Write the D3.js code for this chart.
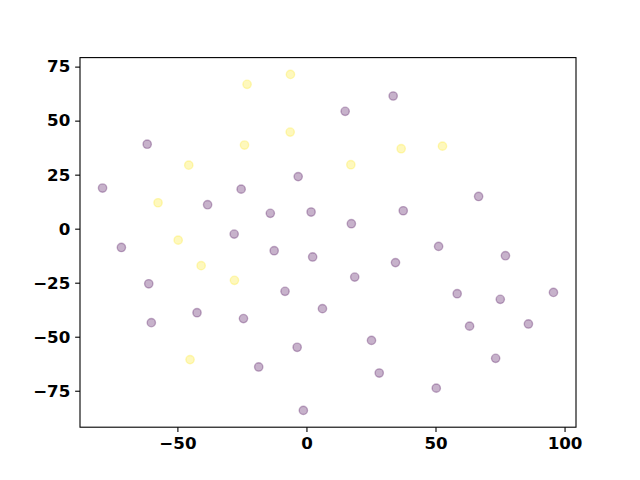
<!DOCTYPE html>
<html>
<head>
<meta charset="utf-8">
<script src="https://cdn.jsdelivr.net/npm/d3@7"></script>
<style>
  body { margin: 0; background: #fff; }
  .tick text { font-family: "DejaVu Sans", sans-serif; font-weight: 700; font-size: 16.67px; fill: #000; }
</style>
</head>
<body>
<div id="chart"></div>
<script>
// two classes of points
var purpleX = [-79.0, -61.7, -71.7, -60.1, -61.1, -38.3, -42.4, -25.3, -28.0, -24.4,
               -18.5, -14.0, -12.5, -8.3, -3.6, -3.2, -1.2, 1.8, 2.4, 6.2,
               15.0, 17.4, 18.7, 25.2, 28.2, 33.6, 34.5, 37.5, 51.2, 50.3,
               58.4, 63.2, 66.7, 73.3, 75.1, 77.1, 86.0, 95.7];
var purpleY = [18.8, 39.1, -8.7, -43.5, -25.5, 11.1, -38.9, 18.3, -2.5, -41.6,
               -64.0, 7.1, -10.2, -29.0, -54.9, 24.1, -84.1, 7.7, -13.1, -37.0,
               54.3, 2.3, -22.4, -51.7, -66.8, 61.4, -15.7, 8.3, -8.2, -73.8,
               -30.1, -45.1, 14.9, -60.0, -32.7, -12.5, -44.1, -29.5];
var yellowX = [-23.0, -6.2, -6.3, -24.0, -45.6, 17.2, 36.7, 52.7, -57.5, -49.7, -40.8, -27.9, -45.1];
var yellowY = [66.8, 71.4, 44.7, 38.7, 29.4, 29.6, 37.0, 38.2, 12.0, -5.3, -17.1, -23.9, -60.6];

var xTicks = [-50, 0, 50, 100];
var yTicks = [-75, -50, -25, 0, 25, 50, 75];

var colors = ["#440154", "#fde725"];

var W = 640, H = 480;
var margin = {left: 80, right: 64, top: 57.6, bottom: 52.8};
var width = W - margin.left - margin.right;
var height = H - margin.top - margin.bottom;

var points = [];
purpleX.forEach(function(x, i) { points.push({x: x, y: purpleY[i], c: 0}); });
yellowX.forEach(function(x, i) { points.push({x: x, y: yellowY[i], c: 1}); });

// matplotlib-style autoscale: data extent plus 5% each side
function padded(ext) {
  var d = (ext[1] - ext[0]) * 0.05;
  return [ext[0] - d, ext[1] + d];
}
var xScale = d3.scaleLinear()
  .domain(padded(d3.extent(points, function(d) { return d.x; })))
  .range([0, width]);
var yScale = d3.scaleLinear()
  .domain(padded(d3.extent(points, function(d) { return d.y; })))
  .range([height, 0]);

var svg = d3.select("#chart").append("svg")
  .attr("width", W)
  .attr("height", H);

var g = svg.append("g")
  .attr("transform", "translate(" + margin.left + "," + margin.top + ")");

g.selectAll(".dot")
  .data(points)
  .enter().append("circle")
  .attr("class", "dot")
  .attr("cx", function(d) { return xScale(d.x); })
  .attr("cy", function(d) { return yScale(d.y); })
  .attr("r", 4.17)
  .attr("fill", function(d) { return colors[d.c]; })
  .attr("fill-opacity", 0.3)
  .attr("stroke", function(d) { return colors[d.c]; })
  .attr("stroke-opacity", 0.3)
  .attr("stroke-width", 1.39);

var xAxis = d3.axisBottom(xScale).tickValues(xTicks).tickSize(4.86).tickSizeOuter(0).tickPadding(4.86);
var yAxis = d3.axisLeft(yScale).tickValues(yTicks).tickSize(4.86).tickSizeOuter(0).tickPadding(4.86);

g.append("g")
  .attr("transform", "translate(0," + height + ")")
  .call(xAxis)
  .call(function(a) { a.select(".domain").remove(); })
  .selectAll("line").attr("stroke-width", 1.1);

g.append("g")
  .call(yAxis)
  .call(function(a) { a.select(".domain").remove(); })
  .selectAll("line").attr("stroke-width", 1.1);

// frame
g.append("rect")
  .attr("width", width)
  .attr("height", height)
  .attr("fill", "none")
  .attr("stroke", "#000")
  .attr("stroke-width", 1.1);
</script>
</body>
</html>
